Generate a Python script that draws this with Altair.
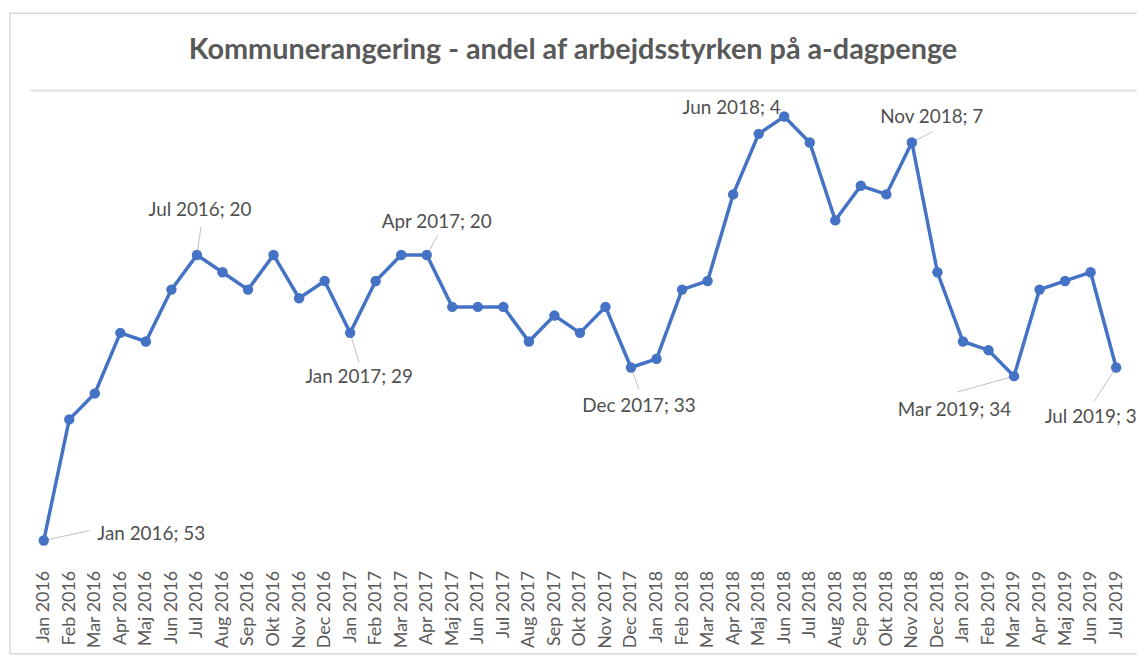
import json
import altair as alt
import pandas as pd

# ---------------- data ----------------
months = [
    "Jan 2016", "Feb 2016", "Mar 2016", "Apr 2016", "Maj 2016", "Jun 2016",
    "Jul 2016", "Aug 2016", "Sep 2016", "Okt 2016", "Nov 2016", "Dec 2016",
    "Jan 2017", "Feb 2017", "Mar 2017", "Apr 2017", "Maj 2017", "Jun 2017",
    "Jul 2017", "Aug 2017", "Sep 2017", "Okt 2017", "Nov 2017", "Dec 2017",
    "Jan 2018", "Feb 2018", "Mar 2018", "Apr 2018", "Maj 2018", "Jun 2018",
    "Jul 2018", "Aug 2018", "Sep 2018", "Okt 2018", "Nov 2018", "Dec 2018",
    "Jan 2019", "Feb 2019", "Mar 2019", "Apr 2019", "Maj 2019", "Jun 2019",
    "Jul 2019",
]
ranks = [
    53, 39, 36, 29, 30, 24, 20, 22, 24, 20, 25, 23,
    29, 23, 20, 20, 26, 26, 26, 30, 27, 29, 26, 33,
    32, 24, 23, 13, 6, 4, 7, 16, 12, 13, 7, 22,
    30, 31, 34, 24, 23, 22, 33,
]
labelled = ["Jan 2016", "Jul 2016", "Jan 2017", "Apr 2017", "Dec 2017",
            "Jun 2018", "Nov 2018", "Mar 2019", "Jul 2019"]

title_text = "Kommunerangering - andel af arbejdsstyrken på a-dagpenge"

# ---------------- layout / style ----------------
PLOT_W, PLOT_H = 1115, 485
X_RANGE = [14, 1094]
Y_DOMAIN = [4, 53]
Y_RANGE = [35, 462]
PX_PER_MONTH = (X_RANGE[1] - X_RANGE[0]) / (len(months) - 1)
PX_PER_RANK = (Y_RANGE[1] - Y_RANGE[0]) / (Y_DOMAIN[1] - Y_DOMAIN[0])

BLUE = "#4472C4"
TEXT = "#595959"
FONT = "Lato"

# label placement: (align, dx, dy) for text; (ldx, ldy) leader end offset in px
label_style = {
    "Jan 2016": ("left", 54, -7, 46, -10),
    "Jul 2016": ("center", 3, -45, 4, -28),
    "Jan 2017": ("center", 9, 44, 9, 30),
    "Apr 2017": ("center", 10, -33, 11, -20),
    "Dec 2017": ("center", 8, 39, 8, 22),
    "Jun 2018": ("center", -53, -9, 0, 0),
    "Nov 2018": ("center", 20, -26, 21, -11),
    "Mar 2019": ("center", -60, 34, -57, 16),
    "Jul 2019": ("left", -72, 50, -22, 34),
}

df = pd.DataFrame({"idx": list(range(len(months))), "month": months, "rank": ranks})
df["label"] = df["month"] + "; " + df["rank"].astype(str)

lead = df[df["month"].isin(labelled)].copy()
lead["x2"] = [i + label_style[m][3] / PX_PER_MONTH for i, m in zip(lead["idx"], lead["month"])]
lead["y2"] = [r + label_style[m][4] / PX_PER_RANK for r, m in zip(lead["rank"], lead["month"])]
lead = lead[[label_style[m][3] != 0 or label_style[m][4] != 0 for m in lead["month"]]]

x_scale = alt.Scale(domain=[0, len(months) - 1], range=X_RANGE, nice=False, zero=False)
y_scale = alt.Scale(domain=Y_DOMAIN, range=Y_RANGE, nice=False, zero=False)

label_expr = json.dumps(months) + "[datum.value]"

x_axis = alt.Axis(
    values=list(range(len(months))), labelExpr=label_expr, labelAngle=-90,
    labelPadding=7, domain=False, ticks=False, grid=False, title=None,
    labelFont=FONT, labelFontSize=18, labelColor=TEXT,
    labelOverlap=False, labelFlush=False, labelBound=False,
)
x_enc = alt.X("idx:Q", scale=x_scale, axis=x_axis)
y_enc = alt.Y("rank:Q", scale=y_scale, axis=None)

base = alt.Chart(df)
one = alt.Data(values=[{"a": 1}])

frame = alt.Chart(one).mark_rect(
    filled=False, stroke="#d9d9d9", strokeWidth=1.5
).encode(
    x=alt.value(-20), x2=alt.value(1140), y=alt.value(-69), y2=alt.value(576)
)

title = alt.Chart(one).mark_text(
    align="center", baseline="alphabetic", font=FONT, fontSize=29,
    fontWeight="bold", color=TEXT,
).encode(
    x=alt.value(547), y=alt.value(-23), text=alt.value(title_text)
)

top_line = alt.Chart(one).mark_rule(
    color="#e3e3e3", strokeWidth=2
).encode(
    y=alt.Y("v:Q", scale=y_scale, axis=None),
    x=alt.value(0), x2=alt.value(PLOT_W),
).transform_calculate(v="1")

leaders = alt.Chart(lead).mark_rule(color="#bfbfbf", strokeWidth=1).encode(
    x=x_enc, x2="x2:Q", y=y_enc, y2="y2:Q",
)

line = base.mark_line(color=BLUE, strokeWidth=3.5).encode(x=x_enc, y=y_enc)
points = base.mark_point(filled=True, color=BLUE, size=110, opacity=1).encode(
    x=x_enc, y=y_enc
)

texts = []
for m in labelled:
    align, dx, dy, _, _ = label_style[m]
    texts.append(
        base.transform_filter(alt.datum.month == m).mark_text(
            align=align, baseline="middle", dx=dx, dy=dy,
            font=FONT, fontSize=19, color="#505050",
        ).encode(x=x_enc, y=y_enc, text="label:N")
    )

chart = alt.layer(frame, title, top_line, leaders, line, points, *texts).properties(
    width=PLOT_W, height=PLOT_H,
    background="white",
    autosize=alt.AutoSizeParams(type="none"),
    padding={"left": 22, "top": 72, "right": 0, "bottom": 95},
).configure_view(strokeWidth=0, stroke="transparent")

chart.save("out.html", embed_options={"renderer": "svg", "actions": False})
